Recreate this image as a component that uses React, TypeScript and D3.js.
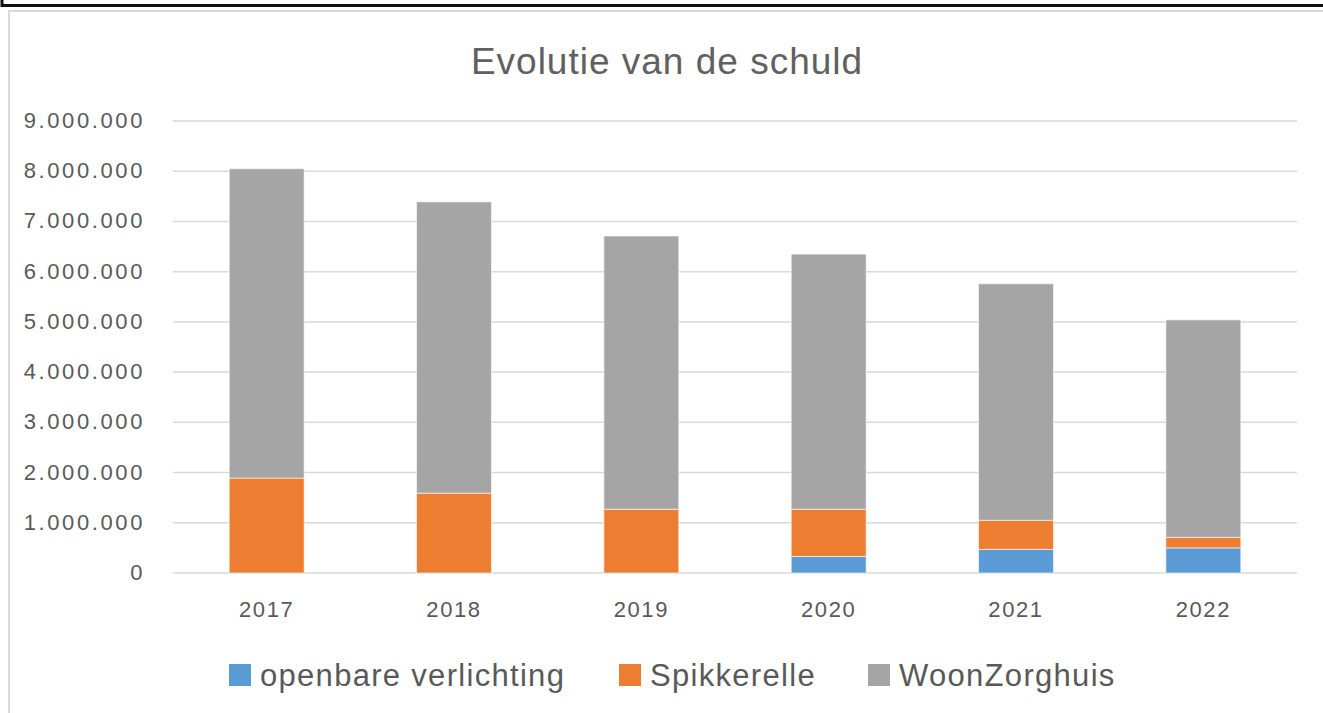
import React, { useEffect, useRef } from 'react';
import * as d3 from 'd3';

// data
const years = ['2017', '2018', '2019', '2020', '2021', '2022'];
const openbareVerlichting = [0, 0, 0, 330000, 470000, 500000];
const spikkerelle = [1890000, 1590000, 1270000, 940000, 580000, 210000];
const woonZorghuis = [6160000, 5800000, 5440000, 5080000, 4710000, 4330000];
const seriesNames = ['openbare verlichting', 'Spikkerelle', 'WoonZorghuis'];
const seriesColors = ['#5b9bd5', '#ed7d31', '#a5a5a5'];
const yTicks = [0, 1000000, 2000000, 3000000, 4000000, 5000000, 6000000, 7000000, 8000000, 9000000];

const FONT = '"Liberation Sans", Arial, Helvetica, sans-serif';
const TEXT = '#595959';

export default function App() {
  const svgRef = useRef<SVGSVGElement>(null);

  useEffect(() => {
    const W = 1323, H = 713;
    const svg = d3.select(svgRef.current);
    svg.selectAll('*').remove();
    svg.attr('width', W).attr('height', H);

    svg.append('rect').attr('width', W).attr('height', H).attr('fill', '#fff');

    // outer frames
    svg.append('path').attr('d', `M2,0 V5.5 H${W}`).attr('fill', 'none').attr('stroke', '#111').attr('stroke-width', 3);
    svg.append('path').attr('d', `M9,${H} V11 H${W}`).attr('fill', 'none').attr('stroke', '#d9d9d9').attr('stroke-width', 2);

    const left = 173, right = 1297, top = 121, bottom = 573;

    const x = d3.scaleBand().domain(years).range([left, right]).paddingInner(0.6).paddingOuter(0.3);
    const y = d3.scaleLinear().domain([0, 9000000]).range([bottom, top]);

    // title
    svg.append('text')
      .attr('x', 667).attr('y', 74)
      .attr('text-anchor', 'middle')
      .attr('font-family', FONT).attr('font-size', 37).attr('font-weight', 300)
      .attr('letter-spacing', 1)
      .attr('fill', '#606060')
      .text('Evolutie van de schuld');

    // grid
    svg.append('g').selectAll('line').data(yTicks).enter().append('line')
      .attr('x1', left).attr('x2', right)
      .attr('y1', d => y(d)).attr('y2', d => y(d))
      .attr('stroke', '#d9d9d9').attr('stroke-width', 1.5);

    // y labels
    const fmt = (v: number) => d3.format(',')(v).replace(/,/g, '.');
    svg.append('g').selectAll('text').data(yTicks).enter().append('text')
      .attr('x', 145).attr('y', d => y(d) + 7)
      .attr('text-anchor', 'end')
      .attr('font-family', FONT).attr('font-size', 22)
      .attr('letter-spacing', 2.6)
      .attr('fill', TEXT)
      .text(d => fmt(d));

    // stacked bars
    const rows = years.map((yr, i) => ({
      year: yr,
      'openbare verlichting': openbareVerlichting[i],
      Spikkerelle: spikkerelle[i],
      WoonZorghuis: woonZorghuis[i],
    }));
    const stack = d3.stack<any>().keys(seriesNames)(rows);

    stack.forEach((layer, si) => {
      svg.append('g').selectAll('rect').data(layer).enter().append('rect')
        .attr('x', d => x(d.data.year)!)
        .attr('width', x.bandwidth())
        .attr('y', d => y(d[1]))
        .attr('height', d => y(d[0]) - y(d[1]))
        .attr('fill', seriesColors[si])
        .attr('stroke', d => (d[1] - d[0] > 0 ? 'rgba(255,255,255,0.6)' : 'none'))
        .attr('stroke-width', 1);
    });

    // x labels
    svg.append('g').selectAll('text').data(years).enter().append('text')
      .attr('x', d => x(d)! + x.bandwidth() / 2)
      .attr('y', 617)
      .attr('text-anchor', 'middle')
      .attr('font-family', FONT).attr('font-size', 22)
      .attr('letter-spacing', 1.6)
      .attr('fill', TEXT)
      .text(d => d);

    // legend
    const legendX = [229, 619, 868];
    const lg = svg.append('g');
    seriesNames.forEach((name, i) => {
      lg.append('rect')
        .attr('x', legendX[i]).attr('y', 664)
        .attr('width', 22).attr('height', 22)
        .attr('fill', seriesColors[i]);
      lg.append('text')
        .attr('x', legendX[i] + 31).attr('y', 686)
        .attr('font-family', FONT).attr('font-size', 31)
        .attr('letter-spacing', 1.3)
        .attr('fill', TEXT)
        .text(name);
    });
  }, []);

  return (
    <div style={{ position: 'absolute', left: 0, top: 0, width: 1323, height: 713 }}>
      <svg ref={svgRef} style={{ display: 'block' }}></svg>
    </div>
  );
}
